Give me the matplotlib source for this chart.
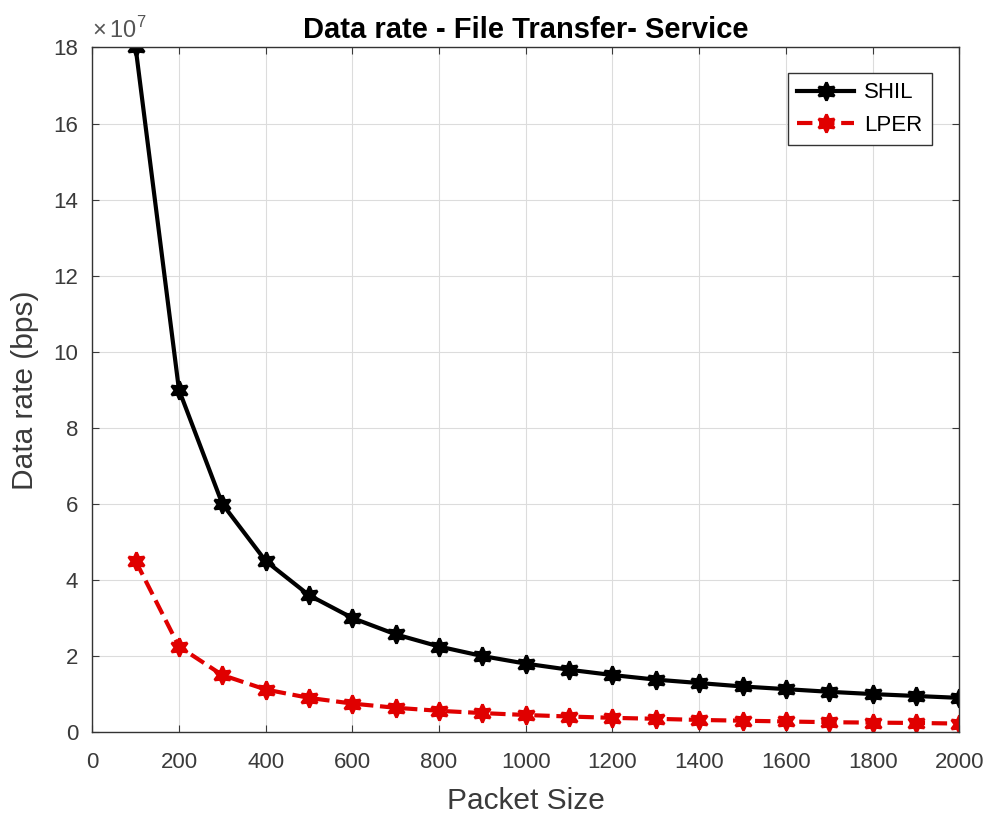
import numpy as np
import matplotlib
matplotlib.use('Agg')
import matplotlib.pyplot as plt

plt.rcParams['font.family'] = ['Liberation Sans', 'DejaVu Sans']
plt.rcParams['mathtext.fontset'] = 'custom'
plt.rcParams['mathtext.rm'] = 'Liberation Sans'

# data (units of 1e7 bps)
packet_size = [100, 200, 300, 400, 500, 600, 700, 800, 900, 1000,
               1100, 1200, 1300, 1400, 1500, 1600, 1700, 1800, 1900, 2000]
shil = [18.0, 9.0, 6.0, 4.5, 3.6, 3.0, 2.57, 2.25, 2.0, 1.8,
        1.64, 1.5, 1.38, 1.29, 1.2, 1.13, 1.06, 1.0, 0.95, 0.9]
lper = [4.5, 2.25, 1.5, 1.12, 0.9, 0.75, 0.64, 0.56, 0.5, 0.45,
        0.41, 0.375, 0.35, 0.32, 0.3, 0.28, 0.26, 0.25, 0.24, 0.225]

x_ticks = list(range(0, 2001, 200))
y_ticks = list(range(0, 19, 2))

fig = plt.figure(figsize=(9.92, 8.18), dpi=100)
ax = fig.add_axes([0.093, 0.105, 0.874, 0.837])

star = (6, 1, 0)
ax.plot(packet_size, shil, color='black', lw=3, ls='-', marker=star,
        ms=13, mew=2, label='SHIL')
ax.plot(packet_size, lper, color='#e00000', lw=3, ls='--', marker=star,
        ms=13, mew=2, label='LPER')

ax.set_xlim(0, 2000)
ax.set_ylim(0, 18)
ax.set_xticks(x_ticks)
ax.set_yticks(y_ticks)
ax.tick_params(labelsize=16, colors='#3a3a3a', direction='in', length=5,
               top=True, right=True)
ax.tick_params(axis='x', pad=14)
ax.tick_params(axis='y', pad=10)
ax.grid(True, color='#dcdcdc', lw=0.8)
for s in ax.spines.values():
    s.set_color('#333333')
    s.set_linewidth(1.0)

ax.set_xlabel('Packet Size', fontsize=21.5, color='#3a3a3a')
ax.set_ylabel('Data rate (bps)', fontsize=21.5, color='#3a3a3a')
ax.xaxis.set_label_coords(0.5, -0.08)
ax.yaxis.set_label_coords(-0.061, 0.5)
ax.set_title('Data rate - File Transfer- Service', fontsize=21,
             fontweight='bold', pad=7)
ax.text(0.0, 1.007, r'$\times\,10^{7}$', transform=ax.transAxes, fontsize=17,
        color='#555555', ha='left', va='bottom')

leg = ax.legend(loc='upper right', fontsize=16, fancybox=False,
                edgecolor='#333333', framealpha=1, handlelength=2.57,
                handletextpad=0.45, labelspacing=0.53, borderpad=0.4,
                borderaxespad=0, bbox_to_anchor=(0.968, 0.962))
leg.get_frame().set_linewidth(1.0)

fig.savefig('out.png', dpi=100)
